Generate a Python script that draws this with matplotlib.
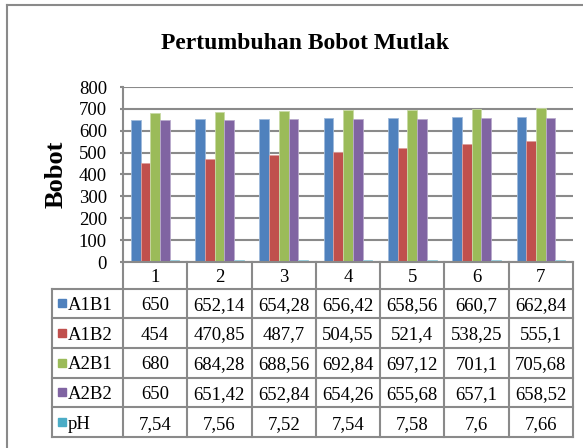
import numpy as np
import matplotlib.pyplot as plt
from matplotlib.lines import Line2D
from matplotlib.colors import to_rgb

plt.rcParams['font.family'] = ['Liberation Serif', 'DejaVu Serif']

# data
hari = ['1', '2', '3', '4', '5', '6', '7']
seri = ['A1B1', 'A1B2', 'A2B1', 'A2B2', 'pH']
a1b1 = [650, 652.14, 654.28, 656.42, 658.56, 660.7, 662.84]
a1b2 = [454, 470.85, 487.7, 504.55, 521.4, 538.25, 555.1]
a2b1 = [680, 684.28, 688.56, 692.84, 697.12, 701.1, 705.68]
a2b2 = [650, 651.42, 652.84, 654.26, 655.68, 657.1, 658.52]
ph = [7.54, 7.56, 7.52, 7.54, 7.58, 7.6, 7.66]
warna = ['#4F81BD', '#C0504D', '#9BBB59', '#8064A2', '#4BACC6']

W, H = 583, 448
abu = '#8a8a8a'
fs = 13.5

fig = plt.figure(figsize=(W / 100, H / 100), dpi=100)


def kotak(x0, y0, x1, y1):
    # kotak piksel (atas-kiri) -> pecahan figure
    return [x0 / W, 1 - y1 / H, (x1 - x0) / W, (y1 - y0) / H]


# bingkai luar (terpotong di kanan dan bawah)
fig.add_artist(Line2D([6.5 / W, 1], [1 - 5.5 / H] * 2, color=abu, lw=1.5))
fig.add_artist(Line2D([6.5 / W] * 2, [0, 1 - 5.5 / H], color=abu, lw=1.5))

# grafik batang
ax = fig.add_axes(kotak(123, 87, 573, 262))
data = [a1b1, a1b2, a2b1, a2b2, ph]
x = np.arange(len(hari))
lebar = 0.151
for i, (nilai, c) in enumerate(zip(data, warna)):
    tepi = tuple(0.55 * np.array(to_rgb(c)) + 0.45)
    ax.bar(x + (i - 2) * lebar, nilai, lebar, color=c, edgecolor=tepi,
           linewidth=0.6, zorder=3)

ax.set_xlim(-0.5, len(hari) - 0.5)
ax.set_ylim(0, 800)
ax.set_yticks(range(0, 801, 100))
ax.set_xticks([])
ax.yaxis.grid(True, color=abu, lw=1.5)
ax.set_axisbelow(True)
for s in ['top', 'right', 'bottom']:
    ax.spines[s].set_visible(False)
ax.spines['left'].set_color(abu)
ax.spines['left'].set_linewidth(1.5)
ax.tick_params(axis='y', length=2, color=abu, width=1.5, labelsize=fs, pad=9.5)

fig.text(305 / W, 1 - 49 / H, 'Pertumbuhan Bobot Mutlak', fontsize=17,
         fontweight='bold', ha='center', va='baseline')
fig.text(56 / W, 1 - 174 / H, 'Bobot', fontsize=19, fontweight='bold',
         rotation=90, ha='center', va='center')

# tabel data
axt = fig.add_axes(kotak(52, 262, 573, 437))
kol_label = 71 / (450 / len(hari))
tinggi_kepala = 26.5
tinggi_baris = 29.7
total = tinggi_kepala + tinggi_baris * len(seri)
kiri = -0.5 - kol_label
kanan = len(hari) - 0.5
axt.set_xlim(kiri, kanan)
axt.set_ylim(total, 0)
axt.axis('off')

gaya = dict(color=abu, lw=1.5, clip_on=False, solid_capstyle='projecting')
axt.plot([-0.5, kanan], [0, 0], **gaya)
for k in range(len(seri) + 1):
    yy = tinggi_kepala + k * tinggi_baris
    axt.plot([kiri, kanan], [yy, yy], **gaya)
axt.plot([kiri, kiri], [tinggi_kepala, total], **gaya)
for j in range(len(hari) + 1):
    axt.plot([j - 0.5, j - 0.5], [0, total], **gaya)

for j, h in enumerate(hari):
    axt.text(j, tinggi_kepala / 2, h, fontsize=fs, ha='center',
             va='center_baseline')

for k, (nama, nilai, c) in enumerate(zip(seri, data, warna)):
    yc = tinggi_kepala + (k + 0.5) * tinggi_baris
    axt.plot(kiri + 0.163, yc, 's', ms=6.3, color=c, clip_on=False)
    axt.text(kiri + 0.245, yc, nama, fontsize=fs, ha='left',
             va='center_baseline')
    for j, v in enumerate(nilai):
        teks = f'{v:g}'.replace('.', ',')
        axt.text(j, yc, teks, fontsize=fs, ha='center', va='center_baseline')

fig.savefig('out.png', dpi=100)
